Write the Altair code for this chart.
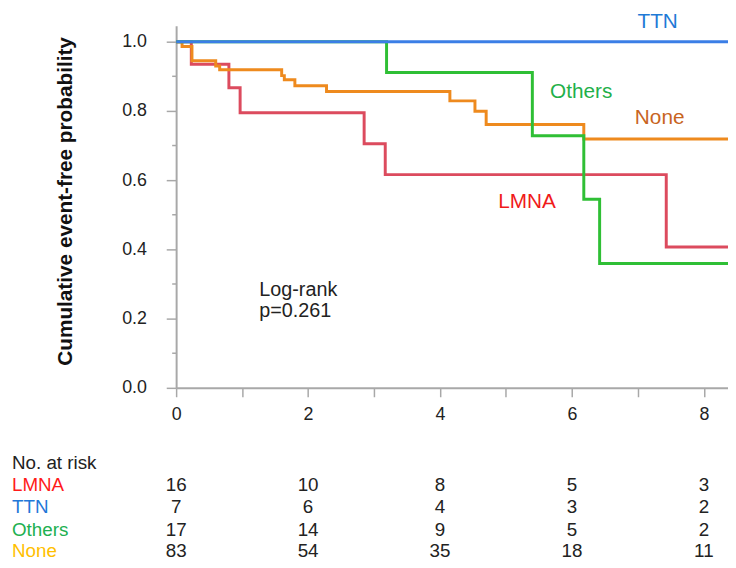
import altair as alt
import pandas as pd

# ---- survival curves (time in years, event-free probability) ----
lmna_t = [0, 0.23, 0.80, 0.97, 2.85, 3.17, 7.43, 8.4]
lmna_s = [1.0, 0.935, 0.867, 0.795, 0.705, 0.616, 0.407, 0.407]
ttn_t = [0, 8.4]
ttn_s = [1.0, 1.0]
others_t = [0, 3.19, 5.40, 6.18, 6.42, 8.4]
others_s = [1.0, 0.911, 0.728, 0.545, 0.359, 0.359]
none_t = [0, 0.09, 0.24, 0.60, 0.66, 1.60, 1.64, 1.80, 2.28, 4.15, 4.53, 4.70, 6.18, 8.4]
none_s = [1.0, 0.986, 0.945, 0.930, 0.919, 0.902, 0.890, 0.873, 0.856, 0.829, 0.799, 0.761, 0.719, 0.719]

# ---- number at risk ----
risk_times = [0, 2, 4, 6, 8]
risk_lmna = [16, 10, 8, 5, 3]
risk_ttn = [7, 6, 4, 3, 2]
risk_others = [17, 14, 9, 5, 2]
risk_none = [83, 54, 35, 18, 11]

y_major = [0.0, 0.2, 0.4, 0.6, 0.8, 1.0]
y_minor = [0.1, 0.3, 0.5, 0.7, 0.9]
x_ticks = [0, 1, 2, 3, 4, 5, 6, 7, 8]

FONT = "Liberation Sans"
GRAY = "#a8a8a8"

xs = alt.Scale(domain=[0, 8.366], nice=False, zero=False)
ys = alt.Scale(domain=[0, 1.0457], nice=False, zero=False)


def curve(t, s, color, with_axes=False):
    df = pd.DataFrame({"t": t, "s": s})
    if with_axes:
        x = alt.X("t:Q", scale=xs, axis=alt.Axis(
            values=x_ticks, format="d",
            labelExpr="datum.value % 2 == 0 ? datum.label : ''",
            title=None, grid=False, tickSize=9, tickWidth=1.5, tickColor=GRAY,
            domainColor=GRAY, domainWidth=2, labelFont=FONT, labelFontSize=18,
            labelColor="#222", labelPadding=9, labelFlush=False))
        y = alt.Y("s:Q", scale=ys, axis=alt.Axis(
            values=y_major, format=".1f", title="Cumulative event-free probability",
            grid=False, tickSize=10, tickWidth=1.5, tickColor=GRAY,
            domainColor=GRAY, domainWidth=2, labelFont=FONT, labelFontSize=18,
            labelColor="#222", labelPadding=20, titleFont=FONT, titleFontSize=21,
            titleFontWeight="bold", titleColor="#111", titleAngle=270,
            titleX=-112, titleY=177, titleAlign="center", titleBaseline="middle"))
    else:
        x = alt.X("t:Q", scale=xs)
        y = alt.Y("s:Q", scale=ys)
    return alt.Chart(df).mark_line(interpolate="step-after", strokeWidth=3,
                                   color=color, clip=True).encode(x=x, y=y)


lines = [
    curve(lmna_t, lmna_s, "#dc4b5e", with_axes=True),
    curve(none_t, none_s, "#ee8a1e"),
    curve(others_t, others_s, "#2fbf35"),
    curve(ttn_t, ttn_s, "#3b7ee6"),
]

minor = alt.Chart(pd.DataFrame({"v": y_minor})).mark_rule(
    color=GRAY, strokeWidth=1.5).encode(
    x=alt.value(-4), x2=alt.value(0), y=alt.Y("v:Q", scale=ys))


def label(text, xv, yv, color, align="center", size=21):
    return alt.Chart(pd.DataFrame({"txt": [text]})).mark_text(
        align=align, baseline="middle", font=FONT, fontSize=size, color=color
    ).encode(x=alt.X(datum=xv), y=alt.Y(datum=yv), text="txt:N")


labels = [
    label("TTN", 7.3, 1.057, "#1f7ad6"),
    label("Others", 6.14, 0.854, "#1fb04a"),
    label("None", 7.33, 0.780, "#c8641e"),
    label("LMNA", 5.32, 0.537, "#f01a1a"),
    label("Log-rank", 1.26, 0.283, "#222", align="left", size=20),
    label("p=0.261", 1.26, 0.222, "#222", align="left", size=20),
]

# ---- risk table ----
rows = [
    ("LMNA", risk_lmna, "#ff1a1a", 464.5),
    ("TTN", risk_ttn, "#2277d8", 487),
    ("Others", risk_others, "#20b050", 509.5),
    ("None", risk_none, "#ffc000", 531.5),
]

table = [alt.Chart(pd.DataFrame({"txt": ["No. at risk"]})).mark_text(
    align="left", baseline="middle", font=FONT, fontSize=19, color="#222"
).encode(x=alt.value(-166), y=alt.value(442), text="txt:N")]

for name, counts, color, ypx in rows:
    table.append(alt.Chart(pd.DataFrame({"txt": [name]})).mark_text(
        align="left", baseline="middle", font=FONT, fontSize=19, color=color
    ).encode(x=alt.value(-166), y=alt.value(ypx), text="txt:N"))
    table.append(alt.Chart(pd.DataFrame({"t": risk_times, "n": counts})).mark_text(
        align="center", baseline="middle", font=FONT, fontSize=19, color="#222"
    ).encode(x=alt.X("t:Q", scale=xs), y=alt.value(ypx), text="n:Q"))

chart = alt.layer(*lines, minor, *labels, *table).properties(
    width=558, height=366,
    autosize=alt.AutoSizeParams(type="none"),
    padding={"left": 170, "top": 15, "right": 0, "bottom": 171},
).configure_view(stroke=None)

chart.save("out.html", embed_options={"renderer": "svg", "actions": False})
